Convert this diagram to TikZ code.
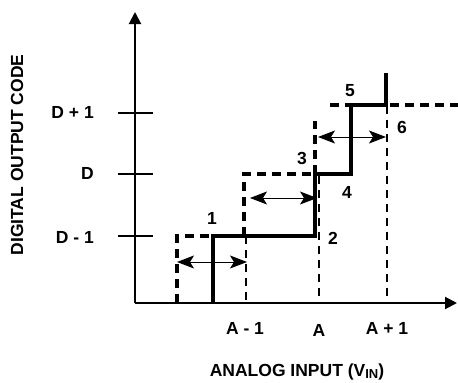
\documentclass[tikz,border=0pt]{standalone}
\usepackage{fontspec}
\setmainfont{Liberation Sans}
\usetikzlibrary{arrows.meta}
\begin{document}
\begin{tikzpicture}[x=1pt,y=-1pt,
  lbl/.style={font=\fontsize{17.5}{20}\selectfont\bfseries, inner sep=0pt},
  axisline/.style={line width=2pt, -{Triangle[length=12pt,width=12pt]}},
  tickline/.style={line width=2pt},
  stair/.style={line width=4pt, line join=miter},
  ideal/.style={line width=4pt, dash pattern=on 9pt off 6pt},
  guide/.style={line width=2.2pt, dash pattern=on 8pt off 6pt},
  span/.style={line width=1pt, {Stealth[length=17pt,width=13pt,inset=4pt]}-{Stealth[length=17pt,width=13pt,inset=4pt]}}]
\useasboundingbox (0,0) rectangle (458,383);
% axes
\coordinate (O) at (135,303);
\coordinate (ytop) at (135,12);
\coordinate (xend) at (457,303);
\draw[axisline] (O) -- (ytop);
\draw[axisline] (O) -- (xend);
% ticks
\coordinate (t1a) at (118,113); \coordinate (t1b) at (153,113);
\coordinate (t2a) at (118,174); \coordinate (t2b) at (153,174);
\coordinate (t3a) at (118,236); \coordinate (t3b) at (153,236);
\draw[tickline] (t1a) -- (t1b);
\draw[tickline] (t2a) -- (t2b);
\draw[tickline] (t3a) -- (t3b);
% guide dashed verticals
\coordinate (g1a) at (246,236); \coordinate (g1b) at (246,303);
\coordinate (g2a) at (319,176); \coordinate (g2b) at (319,303);
\coordinate (g3a) at (387,106); \coordinate (g3b) at (387,303);
\draw[guide] (g1a) -- (g1b);
\draw[guide] (g2a) -- (g2b);
\draw[guide] (g3a) -- (g3b);
% ideal dashed staircase
\coordinate (i1) at (177,303); \coordinate (i2) at (177,236); \coordinate (i3) at (213,236);
\coordinate (i4) at (244,236); \coordinate (i5) at (244,174); \coordinate (i6) at (315,174);
\coordinate (i7) at (315,121);
\coordinate (i8) at (330,105); \coordinate (i9) at (458,105);
\draw[ideal] (i1) -- (i2) -- (i3);
\draw[ideal] (i4) -- (i5) -- (i6);
\draw[ideal] (i6) -- (i7);
\draw[ideal] (i8) -- (i9);
% actual staircase
\coordinate (s1) at (213,303); \coordinate (s2) at (213,236); \coordinate (s3) at (315,236);
\coordinate (s4) at (315,174); \coordinate (s5) at (351,174); \coordinate (s6) at (351,105);
\coordinate (s7) at (386,105); \coordinate (s8) at (386,73);
\draw[stair] (s1) -- (s2) -- (s3) -- (s4) -- (s5) -- (s6) -- (s7) -- (s8);
% width arrows
\coordinate (a1l) at (177,262); \coordinate (a1r) at (247,262);
\coordinate (a2l) at (250,198); \coordinate (a2r) at (317,198);
\coordinate (a3l) at (318,137); \coordinate (a3r) at (386,137);
\draw[span] (a1l) -- (a1r);
\draw[span] (a2l) -- (a2r);
\draw[span] (a3l) -- (a3r);
% point labels
\node[lbl] (n1) at (212,218) {1};
\node[lbl] (n2) at (333,238) {2};
\node[lbl] (n3) at (302,158) {3};
\node[lbl] (n4) at (347,192) {4};
\node[lbl] (n5) at (350,91) {5};
\node[lbl] (n6) at (402,127) {6};
% y labels
\node[lbl, anchor=east] (yD1) at (94,112) {D + 1};
\node[lbl, anchor=east] (yD) at (94,173) {D};
\node[lbl, anchor=east] (yDm) at (94,237) {D - 1};
% x labels
\node[lbl] (xAm) at (245,328) {A - 1};
\node[lbl] (xA) at (319,330) {A};
\node[lbl] (xAp) at (387,328) {A + 1};
% axis titles
\node[lbl, rotate=90] (ytitle) at (17,155) {DIGITAL OUTPUT CODE};
\node[lbl] (xtitle) at (297,372) {ANALOG INPUT (V\raisebox{-0.25ex}{\fontsize{13}{13}\selectfont IN})};
\end{tikzpicture}
\end{document}
